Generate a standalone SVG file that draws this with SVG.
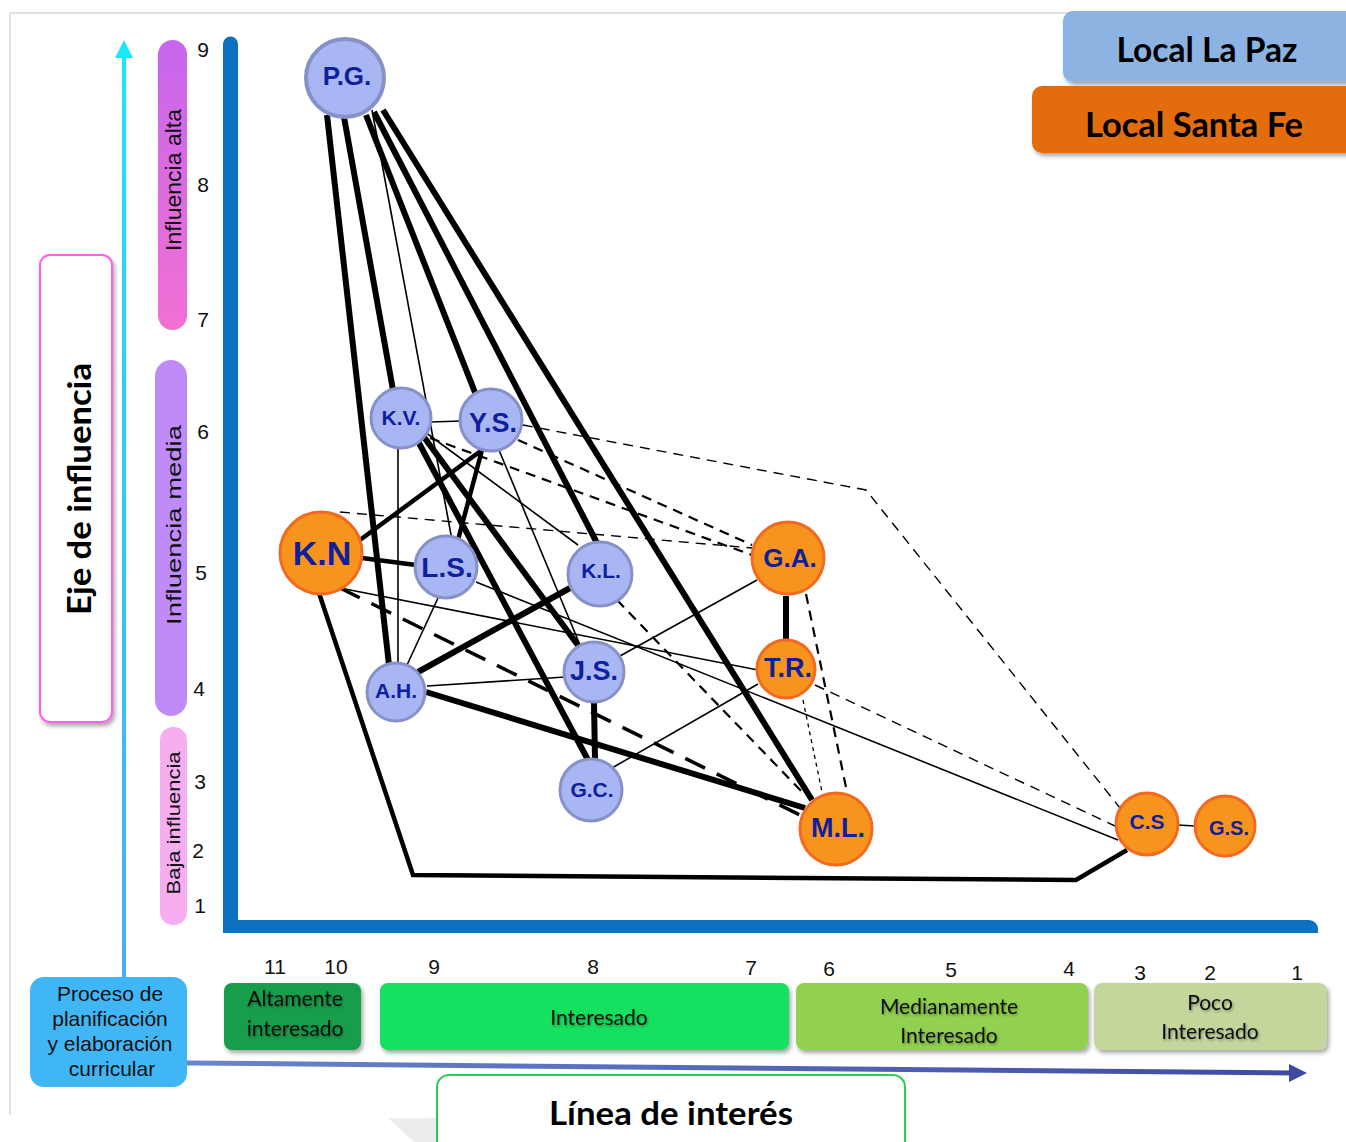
<svg xmlns="http://www.w3.org/2000/svg" width="1346" height="1142" viewBox="0 0 1346 1142">
<defs>
<style>
.lbl{font-family:"Liberation Sans",Arial,sans-serif;font-weight:bold;fill:#10209c;text-anchor:middle}
.num{font-family:"Liberation Sans",Arial,sans-serif;font-size:21px;fill:#111;text-anchor:middle}
.cal{font-family:Lato,"Open Sans",sans-serif;fill:#111;text-anchor:middle}
.calb{font-family:Lato,"Open Sans",sans-serif;font-weight:bold;fill:#000;text-anchor:middle}
.bar{font-family:"Liberation Sans",Arial,sans-serif;fill:#111;text-anchor:middle}
.blue circle{fill:#a8b7f4;stroke:#8691c8;stroke-width:3}
.orange circle{fill:#f7941d;stroke:#f26a22;stroke-width:3}
#connectors path{fill:none;stroke:#000;stroke-linejoin:miter}
.thick{stroke-width:6}
.med{stroke-width:4.5}
.thin{stroke-width:1.6}
.dash{stroke-width:1.4;stroke-dasharray:10 7}
.dashm{stroke-width:2.2;stroke-dasharray:10 7}
.dashthick{stroke-width:3.5;stroke-dasharray:22 13}
.dot{stroke-width:1.3;stroke-dasharray:4 4}
</style>
<filter id="sh" x="-10%" y="-10%" width="125%" height="140%">
<feDropShadow dx="2" dy="3" stdDeviation="2" flood-color="#000" flood-opacity="0.35"/>
</filter>
<filter id="tsh" x="-10%" y="-20%" width="120%" height="150%">
<feDropShadow dx="1" dy="1.5" stdDeviation="1" flood-color="#000" flood-opacity="0.35"/>
</filter>
<linearGradient id="gAlta" x1="0" y1="0" x2="0" y2="1">
<stop offset="0" stop-color="#c766ee"/><stop offset="1" stop-color="#f170d2"/>
</linearGradient>
<linearGradient id="gCyan" gradientUnits="userSpaceOnUse" x1="0" y1="40" x2="0" y2="982">
<stop offset="0" stop-color="#18e8f8"/><stop offset="1" stop-color="#48aef0"/>
</linearGradient>
<linearGradient id="gH" gradientUnits="userSpaceOnUse" x1="187" y1="0" x2="1300" y2="0">
<stop offset="0" stop-color="#6a86cc"/><stop offset="1" stop-color="#3e4aa2"/>
</linearGradient>
</defs>

<rect width="1346" height="1142" fill="#fff"/>
<path d="M10,1115 V13 H1346" fill="none" stroke="#d8d8d8" stroke-width="1.5"/>
<polygon points="388,1118 437,1118 437,1142 414,1142" fill="#ececec"/>

<!-- legend -->
<g id="legend-lapaz">
<rect x="1063" y="11" width="300" height="71" rx="10" fill="#8db3e2" filter="url(#sh)"/>
<text class="calb" x="1207" y="62" font-size="34" textLength="181" lengthAdjust="spacingAndGlyphs">Local La Paz</text>
</g>
<g id="legend-santafe">
<rect x="1032" y="86" width="330" height="67" rx="10" fill="#e36c0a" filter="url(#sh)"/>
<text class="calb" x="1194" y="137" font-size="34" textLength="218" lengthAdjust="spacingAndGlyphs">Local Santa Fe</text>
</g>

<!-- left axis labels -->
<g id="eje-influencia">
<rect x="40" y="255" width="72" height="467" rx="10" fill="#fff" stroke="#ff5fec" stroke-width="2" filter="url(#sh)"/>
<text class="calb" transform="translate(91,489) rotate(-90)" font-size="33" textLength="252" lengthAdjust="spacingAndGlyphs">Eje de influencia</text>
</g>
<g id="cyan-arrow">
<path d="M124,982 V54" fill="none" stroke="url(#gCyan)" stroke-width="4"/>
<polygon points="124,40 115,58 133,58" fill="#18e8f8"/>
</g>

<g id="bar-alta">
<rect x="158" y="40" width="29" height="290" rx="14.5" fill="url(#gAlta)"/>
<text class="bar" transform="translate(181,180) rotate(-90)" font-size="22" textLength="142" lengthAdjust="spacingAndGlyphs">Influencia alta</text>
</g>
<g id="bar-media">
<rect x="155" y="360" width="32" height="356" rx="16" fill="#bf8bf8"/>
<text class="bar" transform="translate(181,525) rotate(-90)" font-size="21" textLength="200" lengthAdjust="spacingAndGlyphs">Influencia media</text>
</g>
<g id="bar-baja">
<rect x="160" y="727" width="27" height="198" rx="13" fill="#f6aef0"/>
<text class="bar" transform="translate(180,823) rotate(-90)" font-size="19" textLength="143" lengthAdjust="spacingAndGlyphs">Baja influencia</text>
</g>

<g id="y-numbers">
<text class="num" x="203" y="57">9</text>
<text class="num" x="203" y="192">8</text>
<text class="num" x="203" y="327">7</text>
<text class="num" x="203" y="439">6</text>
<text class="num" x="201" y="580">5</text>
<text class="num" x="199" y="696">4</text>
<text class="num" x="200" y="789">3</text>
<text class="num" x="198" y="858">2</text>
<text class="num" x="200" y="913">1</text>
</g>

<!-- blue axes -->
<g id="axes" fill="#0b70c0">
<path d="M223,933 V44 A7.5,7.5 0 0 1 238,44 V933 Z"/>
<path d="M223,920 H1309 A9,9 0 0 1 1318,929 V933 H223 Z"/>
</g>

<!-- connectors -->
<g id="connectors">
<path class="thick" d="M327,115 L389,665"/>
<path class="thick" d="M344,117 L393,390"/>
<path class="thin" d="M372,110 L452,540"/>
<path class="thick" d="M366,115 L476,395"/>
<path class="thick" d="M374,112 L598,545"/>
<path class="thick" d="M383,110 L812,800"/>
<path class="thick" d="M415,425 L580,648"/>
<path class="thick" d="M412,430 L588,760"/>
<path class="thin" d="M430,422 L462,421"/>
<path class="thin" d="M398,448 L398,665"/>
<path class="thin" d="M425,432 L578,545"/>
<path class="med" d="M482,450 L458,540"/>
<path class="med" d="M482,450 L360,540"/>
<path class="thin" d="M499,450 L580,645"/>
<path class="med" d="M362,558 L416,565"/>
<path class="thin" d="M340,588 L758,670"/>
<path class="dash" d="M340,512 L752,548"/>
<path class="dashthick" d="M340,588 L800,815"/>
<path class="med" d="M318,590 L413,875 L1076,880 L1127,850"/>
<path class="thin" d="M476,582 L1118,840"/>
<path class="thin" d="M438,598 L407,665"/>
<path class="thick" d="M418,672 L570,588"/>
<path class="thin" d="M427,686 L565,677"/>
<path class="thick" d="M426,692 L805,808"/>
<path class="thick" d="M594,703 L595,760"/>
<path class="thin" d="M620,656 L757,580"/>
<path class="thin" d="M612,768 L758,684"/>
<path class="thick" d="M786,596 L786,642"/>
<path class="dash" d="M523,425 L866,490 L1120,808"/>
<path class="dashm" d="M518,440 L752,545"/>
<path class="dashm" d="M430,438 L752,555"/>
<path class="dashm" d="M617,600 L803,793"/>
<path class="dashm" d="M806,594 L847,792"/>
<path class="dot" d="M803,700 L822,792"/>
<path class="dash" d="M815,685 L1115,826"/>
<path class="thin" d="M1178,825 L1195,826"/>
</g>

<!-- nodes -->
<g id="node-PG" class="blue"><circle cx="345" cy="78" r="39" style="stroke-width:4"/><text class="lbl" x="347" y="85" font-size="26">P.G.</text></g>
<g id="node-KV" class="blue"><circle cx="401" cy="418" r="30"/><text class="lbl" x="401" y="425" font-size="21">K.V.</text></g>
<g id="node-YS" class="blue"><circle cx="491" cy="420" r="31"/><text class="lbl" x="493" y="432" font-size="27">Y.S.</text></g>
<g id="node-KN" class="orange"><circle cx="321" cy="553" r="41"/><text class="lbl" x="322" y="565" font-size="34">K.N</text></g>
<g id="node-LS" class="blue"><circle cx="446" cy="567" r="31"/><text class="lbl" x="447" y="577" font-size="28">L.S.</text></g>
<g id="node-KL" class="blue"><circle cx="600" cy="574" r="32"/><text class="lbl" x="601" y="578" font-size="21">K.L.</text></g>
<g id="node-AH" class="blue"><circle cx="396" cy="692" r="29"/><text class="lbl" x="396" y="698" font-size="21">A.H.</text></g>
<g id="node-JS" class="blue"><circle cx="594" cy="672" r="30"/><text class="lbl" x="594" y="680" font-size="27">J.S.</text></g>
<g id="node-GC" class="blue"><circle cx="591" cy="790" r="31"/><text class="lbl" x="592" y="797" font-size="21">G.C.</text></g>
<g id="node-GA" class="orange"><circle cx="788" cy="558" r="36"/><text class="lbl" x="790" y="567" font-size="26">G.A.</text></g>
<g id="node-TR" class="orange"><circle cx="786" cy="669" r="29"/><text class="lbl" x="788" y="677" font-size="27">T.R.</text></g>
<g id="node-ML" class="orange"><circle cx="836" cy="829" r="36"/><text class="lbl" x="838" y="837" font-size="27">M.L.</text></g>
<g id="node-CS" class="orange"><circle cx="1147" cy="824" r="31"/><text class="lbl" x="1147" y="829" font-size="21">C.S</text></g>
<g id="node-GS" class="orange"><circle cx="1225" cy="826" r="30"/><text class="lbl" x="1229" y="835" font-size="20">G.S.</text></g>

<!-- x numbers -->
<g id="x-numbers">
<text class="num" x="275" y="974">11</text>
<text class="num" x="336" y="974">10</text>
<text class="num" x="434" y="974">9</text>
<text class="num" x="593" y="974">8</text>
<text class="num" x="751" y="975">7</text>
<text class="num" x="829" y="976">6</text>
<text class="num" x="951" y="977">5</text>
<text class="num" x="1069" y="976">4</text>
<text class="num" x="1140" y="980">3</text>
<text class="num" x="1210" y="980">2</text>
<text class="num" x="1297" y="980">1</text>
</g>

<!-- horizontal arrow -->
<g id="interest-arrow">
<path d="M187,1063 L1292,1073" stroke="url(#gH)" stroke-width="5" fill="none"/>
<polygon points="1307,1073 1289,1064 1289,1082" fill="#3e4aa2"/>
</g>

<g id="proceso">
<rect x="30" y="977" width="157" height="110" rx="14" fill="#41b6f5"/>
<text class="num" x="110" y="1001" font-size="20">Proceso de</text>
<text class="num" x="110" y="1026" font-size="20">planificación</text>
<text class="num" x="110" y="1051" font-size="20">y elaboración</text>
<text class="num" x="112" y="1076" font-size="20">curricular</text>
</g>
<g id="altamente">
<rect x="224" y="983" width="137" height="67" rx="8" fill="#199e4b" filter="url(#sh)"/>
<text class="cal" x="295" y="1006" font-size="21" filter="url(#tsh)">Altamente</text>
<text class="cal" x="295" y="1036" font-size="21" filter="url(#tsh)">interesado</text>
</g>
<g id="interesado">
<rect x="380" y="983" width="409" height="67" rx="8" fill="#12e05e" filter="url(#sh)"/>
<text class="cal" x="599" y="1025" font-size="21" filter="url(#tsh)">Interesado</text>
</g>
<g id="medianamente">
<rect x="796" y="983" width="292" height="67" rx="8" fill="#92d050" filter="url(#sh)"/>
<text class="cal" x="949" y="1014" font-size="21" filter="url(#tsh)">Medianamente</text>
<text class="cal" x="949" y="1043" font-size="21" filter="url(#tsh)">Interesado</text>
</g>
<g id="poco">
<rect x="1094" y="983" width="233" height="67" rx="8" fill="#c3d69b" filter="url(#sh)"/>
<text class="cal" x="1210" y="1010" font-size="21" filter="url(#tsh)">Poco</text>
<text class="cal" x="1210" y="1039" font-size="21" filter="url(#tsh)">Interesado</text>
</g>

<g id="linea-interes">
<rect x="437" y="1075" width="468" height="80" rx="12" fill="#fff" stroke="#2ecc55" stroke-width="2"/>
<text class="calb" x="671" y="1125" font-size="32" textLength="244" lengthAdjust="spacingAndGlyphs">Línea de interés</text>
</g>
</svg>
